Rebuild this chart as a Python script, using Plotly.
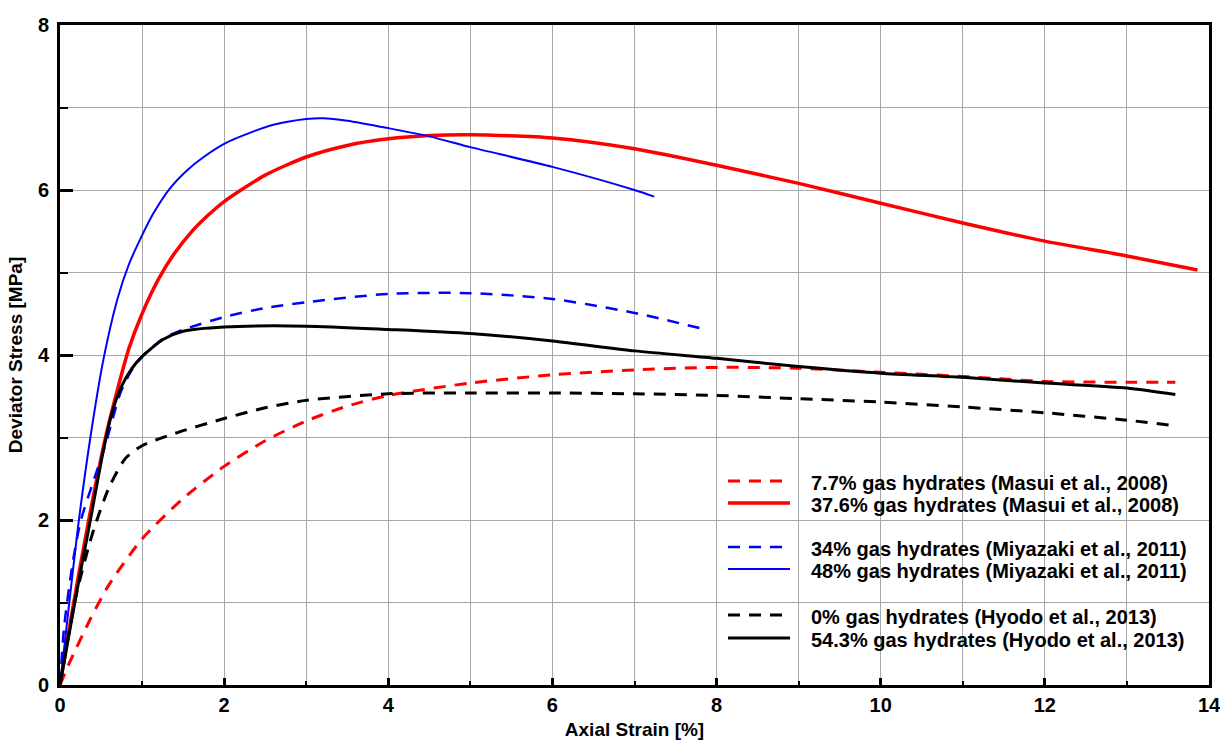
import plotly.graph_objects as go

# ---- data ----
masui_77_x = [0, 0.12, 0.37, 0.6, 1.0, 1.5, 2.0, 2.5, 3.0, 3.5, 4.0, 5.0, 6.0, 7.0, 8.0, 9.0, 10.0, 11.0, 12.0, 13.0, 13.59]
masui_77_y = [0, 0.28, 0.8, 1.22, 1.77, 2.26, 2.65, 2.96, 3.2, 3.38, 3.51, 3.66, 3.76, 3.82, 3.85, 3.84, 3.79, 3.74, 3.68, 3.67, 3.67]

masui_376_x = [0, 0.16, 0.35, 0.55, 0.7, 0.84, 1.0, 1.2, 1.4, 1.6, 1.8, 2.0, 2.5, 3.0, 3.5, 4.0, 4.5, 5.0, 6.0, 7.0, 8.0, 9.0, 10.0, 11.0, 12.0, 13.0, 13.86]
masui_376_y = [0, 0.96, 2.0, 2.98, 3.58, 4.08, 4.5, 4.92, 5.24, 5.49, 5.69, 5.86, 6.18, 6.4, 6.54, 6.62, 6.66, 6.67, 6.63, 6.5, 6.3, 6.08, 5.84, 5.6, 5.38, 5.2, 5.03]

miya_34_x = [0, 0.05, 0.15, 0.25, 0.4, 0.55, 0.62, 0.74, 0.87, 1.0, 1.26, 1.51, 2.0, 2.5, 3.0, 4.0, 5.0, 6.0, 7.0, 7.82]
miya_34_y = [0, 0.7, 1.45, 1.98, 2.45, 2.9, 3.15, 3.55, 3.81, 3.98, 4.2, 4.31, 4.46, 4.57, 4.64, 4.74, 4.75, 4.68, 4.51, 4.32]

miya_48_x = [0, 0.1, 0.22, 0.37, 0.53, 0.7, 0.84, 1.0, 1.14, 1.34, 1.55, 1.75, 2.0, 2.36, 2.6, 3.0, 3.2, 3.5, 4.0, 4.5, 5.0, 6.0, 7.0, 7.24]
miya_48_y = [0, 0.88, 1.92, 3.0, 3.95, 4.68, 5.1, 5.45, 5.72, 6.02, 6.24, 6.4, 6.56, 6.71, 6.79, 6.86, 6.87, 6.84, 6.75, 6.65, 6.52, 6.28, 6.0, 5.92]

hyodo_0_x = [0, 0.2, 0.4, 0.6, 0.8, 1.0, 1.4, 2.0, 2.5, 3.0, 4.0, 5.0, 6.0, 7.0, 8.0, 9.0, 10.0, 11.0, 12.0, 13.0, 13.53]
hyodo_0_y = [0, 1.1, 1.85, 2.4, 2.75, 2.9, 3.05, 3.23, 3.36, 3.45, 3.53, 3.54, 3.54, 3.53, 3.51, 3.47, 3.43, 3.37, 3.3, 3.21, 3.15]

hyodo_543_x = [0, 0.18, 0.37, 0.52, 0.62, 0.74, 0.87, 1.0, 1.26, 1.51, 2.0, 3.0, 4.0, 5.0, 6.0, 7.0, 8.0, 9.0, 10.0, 11.0, 12.0, 13.0, 13.59]
hyodo_543_y = [0, 1.0, 2.0, 2.8, 3.25, 3.6, 3.83, 3.98, 4.19, 4.29, 4.34, 4.35, 4.31, 4.26, 4.17, 4.05, 3.96, 3.86, 3.78, 3.73, 3.66, 3.6, 3.52]

labels = [
    "7.7% gas hydrates (Masui et al., 2008)",
    "37.6% gas hydrates (Masui et al., 2008)",
    "34% gas hydrates (Miyazaki et al., 2011)",
    "48% gas hydrates (Miyazaki et al., 2011)",
    "0% gas hydrates (Hyodo et al., 2013)",
    "54.3% gas hydrates (Hyodo et al., 2013)",
]
x_ticks = [0, 2, 4, 6, 8, 10, 12, 14]
y_ticks = [0, 2, 4, 6, 8]

DASH = "12px,9px"
series = [
    (masui_77_x, masui_77_y, "#ff0000", 3, DASH),
    (masui_376_x, masui_376_y, "#ff0000", 3.5, "solid"),
    (miya_34_x, miya_34_y, "#0000ff", 2.5, DASH),
    (miya_48_x, miya_48_y, "#0000ff", 2, "solid"),
    (hyodo_0_x, hyodo_0_y, "#000000", 3, DASH),
    (hyodo_543_x, hyodo_543_y, "#000000", 3, "solid"),
]

FONT = "Liberation Sans, Arial, sans-serif"
GRID = "#a8a8a8"

# plot area at x 60..1209, y 25..685 of a 1220x740 page (body margin removed below)
W, H = 1220, 740
L = 60.0; R = 1209.0; T = 25.0; B = 685.0

fig = go.Figure()
for (xs, ys, col, w, dash), name in zip(series, labels):
    fig.add_trace(go.Scatter(
        x=xs, y=ys, mode="lines", name=name, showlegend=False,
        line=dict(color=col, width=w, dash=dash, shape="spline", smoothing=0.7),
    ))

# ---- legend drawn in paper coordinates (three groups of two rows) ----
def px2paper(px, py):
    return (px - L) / (R - L), (B - py) / (B - T)

row_y = [481, 503, 547, 569, 615, 638]
for (xs, ys, col, w, dash), name, ry in zip(series, labels, row_y):
    x0, yy = px2paper(728, ry)
    x1, _ = px2paper(790, ry)
    fig.add_shape(type="line", xref="paper", yref="paper", x0=x0, x1=x1, y0=yy, y1=yy,
                  line=dict(color=col, width=w, dash=dash))
    tx, ty = px2paper(809, ry + 2)
    fig.add_annotation(xref="paper", yref="paper", x=tx, y=ty, text=name, showarrow=False,
                       xanchor="left", yanchor="middle",
                       font=dict(family=FONT, size=20, color="black", weight="bold"))

axis_common = dict(
    showline=True, linecolor="black", linewidth=3, mirror=True,
    ticks="inside", tickcolor="black",
    showgrid=True, gridcolor=GRID, gridwidth=1.2,
    zeroline=False, automargin=False, ticklabeloverflow="allow",
    tickfont=dict(family=FONT, size=20, color="black", weight="bold"),
    title_font=dict(family=FONT, size=19, color="black", weight="bold"),
)

fig.update_xaxes(
    range=[0, 14], tickvals=x_ticks, ticktext=[str(v) for v in x_ticks],
    ticklen=7, tickwidth=3,
    minor=dict(dtick=1, showgrid=True, gridcolor=GRID, gridwidth=1.2,
               ticks="inside", ticklen=4, tickwidth=2, tickcolor="black"),
    title_text="Axial Strain [%]", title_standoff=10,
    **axis_common,
)
fig.update_yaxes(
    range=[0, 8], tickvals=y_ticks, ticktext=[str(v) for v in y_ticks],
    ticklen=13, tickwidth=3, ticklabelstandoff=4,
    minor=dict(dtick=1, showgrid=True, gridcolor=GRID, gridwidth=1.2,
               ticks="inside", ticklen=8, tickwidth=2, tickcolor="black"),
    title_text="Deviator Stress [MPa]", title_standoff=11,
    **axis_common,
)

fig.update_layout(
    width=W, height=H,
    margin=dict(l=L, r=W - R, t=T, b=H - B),
    plot_bgcolor="white", paper_bgcolor="white",
    showlegend=False,
)

fig.write_html(
    "out.html",
    config={"displayModeBar": False},
    post_script="document.body.style.margin='0';document.body.style.overflow='hidden';",
)
